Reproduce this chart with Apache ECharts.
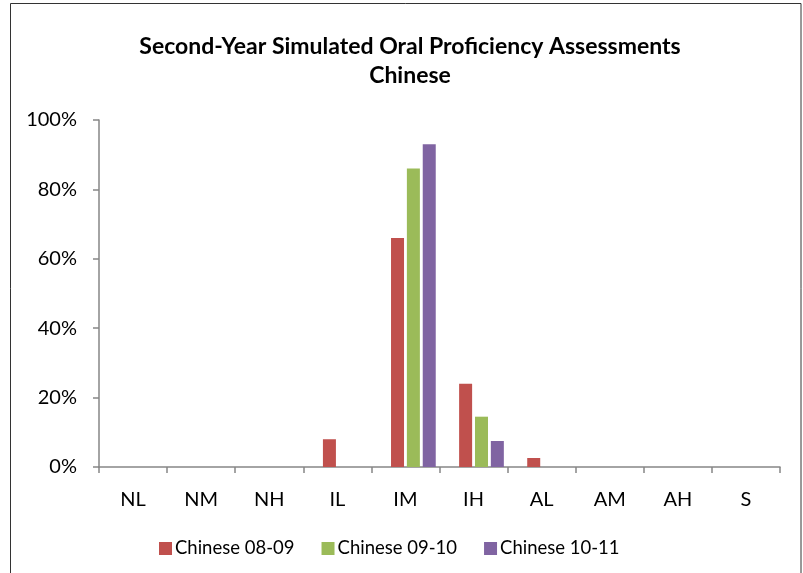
<!DOCTYPE html>
<html><head><meta charset="utf-8">
<script src="https://cdn.jsdelivr.net/npm/echarts@6/dist/echarts.min.js"></script>
<style>html,body{margin:0;padding:0;background:#fff}#c{width:803px;height:573px}</style>
</head><body><div id="c"></div>
<script>
const categories = ['NL','NM','NH','IL','IM','IH','AL','AM','AH','S'];
const sHidden = [null,null,null,null,null,null,null,null,null,null];
const s0809 = [0,0,0,8,66,24,2.6,0,0,0];
const s0910 = [0,0,0,0,86,14.5,0,0,0,0];
const s1011 = [0,0,0,0,93,7.5,0,0,0,0];
const seriesNames = ['Chinese 08-09','Chinese 09-10','Chinese 10-11'];
const colors = ['#C0504D','#9BBB59','#8064A2'];
const font = 'Lato, "Open Sans", sans-serif';

const chart = echarts.init(document.getElementById('c'));
const data = [s0809, s0910, s1011];
const series = [{name: '_empty', type: 'bar', data: sHidden, barWidth: 13, barGap: '22%', itemStyle: {color: 'transparent'}}]
  .concat(data.map((d, i) => ({
    name: seriesNames[i], type: 'bar', data: d,
    barWidth: 13, barGap: '22%',
    itemStyle: {color: colors[i]}
  })));
chart.setOption({
  animation: false,
  title: {
    text: 'Second-Year Simulated Oral Proficiency Assessments\nChinese',
    left: 405, top: 27, textAlign: 'center',
    textStyle: {fontFamily: font, fontSize: 23, fontWeight: 'bold', color: '#000', lineHeight: 29}
  },
  graphic: [{type: 'rect', shape: {x: 10.5, y: 3.5, width: 790.5, height: 600}, style: {fill: 'none', stroke: '#333', lineWidth: 1}}],
  legend: {
    top: 534, left: 154, itemWidth: 13, itemHeight: 13, itemGap: 27,
    icon: 'rect',
    textStyle: {fontFamily: font, fontSize: 18.5, color: '#000', padding: [0,0,0,-2]},
    data: seriesNames
  },
  grid: {left: 99, right: 23, top: 120, bottom: 106},
  xAxis: {
    type: 'category', data: categories,
    axisLine: {lineStyle: {color: '#868686', width: 1.5}},
    axisTick: {show: true, length: 6, lineStyle: {color: '#868686', width: 1.5}},
    axisLabel: {fontFamily: font, fontSize: 20, color: '#000', margin: 23}
  },
  yAxis: {
    type: 'value', min: 0, max: 100, interval: 20,
    splitLine: {show: false},
    axisLine: {show: true, lineStyle: {color: '#868686', width: 1.5}},
    axisTick: {show: true, length: 6, lineStyle: {color: '#868686', width: 1.5}},
    axisLabel: {fontFamily: font, fontSize: 20, color: '#000', margin: 22, formatter: '{value}%'}
  },
  series: series
});
</script></body></html>
